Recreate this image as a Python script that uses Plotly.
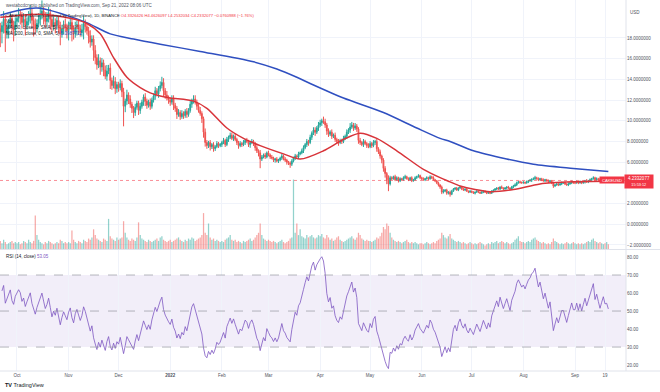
import numpy as np
import pandas as pd
import plotly.graph_objects as go

# ---------------- DATA ----------------
start_date = "2021-09-21"
first_open = 18.9

close = [
    # Sep 21-30 2021
    18.6, 19.2, 19.8, 18.5, 18.9, 19.4, 19.9, 19.1, 18.8, 19.6,
    # Oct
    19.9, 20.3, 20.1, 19.5, 19.8, 19.2, 19.6, 20.0, 20.4, 19.7,
    19.3, 18.9, 19.4, 19.8, 20.2, 20.6, 20.1, 19.6, 19.9, 20.4,
    19.8, 19.1, 19.5, 19.2, 19.7, 19.0, 18.4, 18.9, 19.3, 19.0, 18.7,
    # Nov
    19.2, 19.5, 18.8, 18.4, 19.0, 19.3, 18.9, 18.5, 18.8, 19.4,
    19.1, 18.7, 18.2, 17.6, 17.9, 16.8, 16.1, 15.4, 15.8, 15.2,
    15.6, 14.9, 14.3, 14.8, 15.1, 13.9, 13.4, 13.8, 13.1, 13.5,
    # Dec
    13.2, 13.6, 12.8, 11.4, 11.9, 12.5, 12.1, 11.6, 11.2, 10.8,
    11.3, 11.7, 11.0, 11.4, 11.8, 12.3, 11.9, 11.5, 11.8, 11.4,
    12.0, 12.4, 12.9, 12.6, 13.1, 13.4, 13.7, 12.9, 12.5, 12.2, 12.0,
    # Jan 2022
    11.8, 12.1, 11.5, 11.2, 10.6, 10.8, 10.4, 10.7, 10.5, 10.9,
    10.6, 11.0, 11.6, 11.9, 12.1, 11.8, 11.4, 11.0, 10.7, 10.2,
    8.9, 7.9, 7.6, 7.9, 7.5, 7.7, 7.3, 7.5, 7.8, 7.6, 7.7,
    # Feb
    7.9, 8.1, 7.7, 8.2, 8.4, 8.6, 8.3, 8.5, 8.2, 7.9,
    7.6, 7.8, 7.7, 7.9, 8.1, 8.0, 7.7, 7.9, 8.0, 7.8,
    7.4, 7.1, 6.9, 6.3, 6.5, 6.7, 6.5, 6.9,
    # Mar
    6.7, 6.5, 6.4, 6.2, 6.3, 6.1, 6.2, 6.4, 6.6, 6.3,
    6.2, 6.0, 5.9, 5.8, 6.1, 6.4, 6.6, 6.5, 6.8, 6.9,
    7.1, 7.4, 7.7, 8.0, 7.9, 8.4, 8.8, 9.1, 8.9, 9.3, 9.6,
    # Apr
    9.8, 10.0, 9.9, 9.6, 9.0, 8.7, 8.9, 8.5, 8.6, 8.2,
    8.0, 7.9, 8.1, 8.0, 8.3, 8.5, 8.9, 9.1, 9.4, 9.6,
    9.3, 9.5, 9.2, 8.1, 7.9, 7.7, 8.0, 7.8, 7.6, 7.5,
    # May
    7.8, 7.6, 7.9, 8.0, 7.3, 7.0, 6.6, 6.2, 5.4, 4.9,
    4.3, 3.9, 4.5, 4.4, 4.6, 4.3, 4.5, 4.2, 4.4, 4.3,
    4.5, 4.6, 4.4, 4.3, 4.5, 4.2, 4.3, 4.5, 4.6, 4.7, 4.5,
    # Jun
    4.4, 4.3, 4.4, 4.5, 4.4, 4.6, 4.5, 4.3, 4.2, 4.0,
    3.8, 3.6, 3.1, 3.2, 3.3, 3.0, 3.1, 2.9, 3.2, 3.4,
    3.5, 3.3, 3.5, 3.6, 3.4, 3.3, 3.4, 3.2, 3.1, 3.2,
    # Jul
    3.1, 3.0, 3.1, 3.2, 3.1, 3.0, 3.1, 3.2, 3.1, 3.0,
    3.1, 3.0, 3.2, 3.3, 3.4, 3.5, 3.4, 3.6, 3.5, 3.4,
    3.5, 3.6, 3.5, 3.4, 3.6, 3.7, 3.8, 4.0, 4.1, 4.05, 4.0,
    # Aug
    4.05, 4.0, 4.1, 4.2, 4.25, 4.35, 4.4, 4.5, 4.4, 4.3,
    4.4, 4.3, 4.2, 4.3, 4.2, 4.1, 4.2, 4.0, 3.7, 3.8,
    3.9, 3.8, 3.9, 4.0, 4.0, 3.9, 3.8, 3.9, 4.0, 4.1, 4.0,
    # Sep 1-21
    4.0, 4.1, 4.0, 4.1, 4.0, 4.1, 4.2, 4.1, 4.2, 4.3,
    4.4, 4.5, 4.3, 4.4, 4.3, 4.2, 4.3, 4.4, 4.3, 4.31, 4.2332077,
]

# upper / lower shadow length, in % of the candle body edge
up_wick_pct = [
    3, 2, 4, 2, 3, 2, 3, 2, 3, 2,
    2, 3, 2, 2, 3, 2, 2, 3, 4, 2, 2, 3, 2, 3, 4, 5, 2, 2, 3, 3, 2, 2, 3, 2, 2, 2, 3, 2, 2, 3, 2,
    2, 3, 2, 2, 3, 2, 2, 2, 3, 4, 2, 2, 2, 3, 2, 2, 3, 2, 4, 2, 3, 2, 3, 4, 2, 3, 2, 4, 3, 2,
    2, 3, 2, 3, 2, 4, 2, 3, 2, 2, 3, 2, 2, 3, 2, 2, 3, 2, 2, 3, 2, 2, 3, 2, 2, 3, 4, 3, 2, 3, 2,
    2, 3, 3, 2, 2, 3, 2, 3, 2, 2, 3, 2, 3, 2, 3, 3, 2, 2, 3, 2, 2, 4, 3, 2, 3, 2, 3, 2, 3, 2, 2,
    2, 3, 2, 3, 2, 3, 3, 2, 3, 2, 2, 3, 2, 3, 2, 3, 2, 2, 3, 2, 2, 3, 2, 4, 3, 2, 3, 2,
    3, 2, 3, 2, 2, 3, 2, 2, 3, 2, 3, 2, 2, 3, 3, 2, 3, 2, 3, 2, 3, 3, 2, 3, 2, 3, 2, 3, 3, 2, 3,
    3, 2, 4, 3, 2, 3, 2, 3, 2, 3, 2, 3, 2, 2, 3, 2, 3, 2, 4, 3, 2, 3, 2, 2, 3, 2, 3, 2, 2, 3,
    3, 2, 3, 2, 3, 2, 3, 2, 3, 4, 3, 10, 4, 3, 2, 4, 3, 2, 3, 2, 3, 4, 2, 3, 2, 3, 2, 3, 2, 3, 2,
    2, 3, 2, 3, 2, 3, 2, 3, 2, 2, 3, 2, 4, 6, 3, 4, 3, 5, 4, 3, 2, 3, 2, 3, 2, 3, 2, 3, 2, 3,
    2, 3, 2, 3, 2, 2, 3, 2, 2, 3, 2, 2, 3, 2, 3, 2, 3, 2, 4, 2, 3, 2, 3, 2, 3, 3, 4, 3, 2, 3, 2,
    3, 2, 3, 2, 3, 2, 3, 4, 2, 3, 2, 2, 3, 2, 2, 3, 2, 2, 3, 2, 3, 2, 2, 3, 2, 3, 2, 4, 2, 3, 2,
    2, 3, 2, 3, 2, 3, 2, 4, 2, 3, 2, 3, 2, 3, 2, 4, 2, 3, 2, 3, 3,
]
down_wick_pct = [
    8, 6, 4, 10, 3, 5, 2, 4, 6, 3,
    3, 2, 4, 3, 2, 5, 2, 2, 3, 4, 6, 3, 2, 2, 3, 2, 4, 3, 2, 2, 5, 3, 2, 4, 2, 3, 6, 2, 3, 2, 4,
    5, 2, 6, 3, 2, 4, 3, 2, 2, 5, 3, 2, 4, 3, 2, 6, 4, 3, 2, 5, 3, 4, 2, 3, 2, 6, 3, 2, 4, 3,
    3, 2, 4, 17, 5, 3, 4, 3, 4, 5, 3, 2, 4, 3, 2, 3, 4, 3, 2, 3, 2, 2, 3, 2, 3, 2, 2, 4, 3, 2, 3,
    3, 2, 4, 3, 4, 2, 3, 2, 3, 2, 3, 2, 2, 3, 2, 2, 3, 2, 2, 4, 6, 5, 4, 3, 5, 3, 4, 3, 2, 3, 2,
    3, 2, 3, 2, 3, 2, 2, 3, 2, 3, 4, 2, 3, 2, 3, 2, 3, 4, 2, 3, 4, 3, 5, 14, 3, 2, 3, 2,
    2, 3, 2, 3, 4, 2, 3, 2, 3, 2, 3, 4, 3, 6, 3, 2, 3, 2, 3, 2, 2, 3, 2, 3, 4, 2, 3, 2, 4, 2, 3,
    2, 3, 2, 3, 4, 3, 2, 3, 2, 3, 3, 4, 2, 3, 2, 2, 3, 2, 3, 2, 3, 2, 3, 4, 3, 2, 3, 2, 3, 2,
    2, 3, 2, 3, 4, 3, 4, 5, 6, 8, 10, 18, 4, 3, 2, 3, 2, 4, 3, 2, 2, 3, 2, 3, 2, 3, 2, 2, 3, 2, 3,
    3, 2, 3, 2, 3, 2, 3, 2, 3, 3, 4, 5, 6, 4, 3, 5, 4, 8, 3, 2, 3, 2, 3, 2, 3, 2, 3, 2, 3, 2,
    3, 2, 4, 2, 3, 2, 2, 3, 2, 3, 2, 3, 2, 4, 2, 3, 2, 3, 2, 3, 2, 4, 2, 3, 2, 3, 2, 3, 2, 3, 2,
    2, 3, 2, 3, 2, 4, 2, 3, 2, 3, 2, 3, 2, 3, 2, 3, 2, 3, 5, 3, 2, 3, 2, 3, 2, 3, 2, 3, 2, 3, 2,
    3, 2, 3, 2, 3, 2, 4, 2, 3, 2, 3, 2, 3, 2, 3, 2, 3, 2, 3, 2, 1,
]

volume = [
    7, 5, 8, 6, 4, 5, 6, 7, 5, 6,
    5, 6, 4, 5, 7, 6, 5, 8, 6, 5, 7, 29, 12, 8, 6, 5, 4, 6, 5, 7, 6, 5, 4, 5, 6, 5, 8, 7, 5, 6, 5,
    6, 5, 16, 8, 6, 5, 7, 6, 5, 8, 7, 6, 9, 8, 10, 17, 12, 9, 8, 7, 6, 9, 8, 7, 26, 11, 9, 8, 7, 10,
    8, 9, 10, 24, 14, 10, 8, 7, 9, 8, 7, 10, 23, 12, 9, 8, 7, 6, 8, 7, 6, 7, 8, 9, 7, 10, 11, 8, 7, 6, 7,
    8, 6, 7, 8, 9, 10, 8, 7, 6, 8, 7, 9, 8, 10, 9, 7, 8, 9, 10, 12, 31, 14, 12, 22, 10, 8, 9, 7, 8, 7, 6,
    7, 6, 8, 9, 10, 12, 8, 7, 8, 6, 7, 6, 5, 7, 6, 7, 8, 9, 7, 8, 10, 12, 14, 22, 12, 9, 8, 7,
    8, 7, 6, 7, 6, 5, 6, 7, 8, 6, 5, 6, 7, 9, 10, 60, 14, 22, 12, 17, 11, 10, 9, 12, 10, 11, 12, 10, 9, 10, 12,
    11, 13, 10, 9, 12, 10, 8, 9, 7, 8, 10, 11, 8, 7, 6, 7, 8, 9, 10, 11, 9, 8, 10, 14, 12, 9, 8, 7, 8, 7,
    7, 6, 7, 8, 10, 9, 11, 14, 19, 17, 22, 20, 14, 10, 8, 7, 6, 7, 6, 5, 6, 7, 8, 6, 5, 6, 5, 6, 5, 4, 5,
    5, 4, 5, 6, 5, 4, 5, 6, 5, 7, 8, 9, 14, 12, 10, 9, 11, 13, 9, 8, 7, 6, 7, 6, 5, 6, 5, 4, 5, 6,
    5, 4, 5, 4, 5, 6, 5, 4, 3, 4, 5, 4, 6, 5, 6, 7, 5, 6, 7, 6, 5, 6, 5, 4, 5, 6, 8, 9, 11, 7, 6,
    6, 5, 6, 7, 6, 8, 9, 10, 8, 7, 6, 5, 6, 5, 4, 5, 4, 6, 9, 7, 6, 5, 4, 5, 4, 5, 6, 5, 4, 5, 6,
    5, 4, 5, 4, 5, 4, 5, 6, 7, 6, 8, 9, 7, 6, 5, 6, 5, 4, 5, 6, 4,
]

ma50_dates = ["2021-09-21", "2021-10-15", "2021-11-02", "2021-11-12", "2021-11-20",
              "2021-11-28", "2021-12-06", "2021-12-14", "2021-12-20", "2021-12-26",
              "2022-01-01", "2022-01-15", "2022-01-23", "2022-02-04", "2022-02-14",
              "2022-02-24", "2022-03-10", "2022-03-20", "2022-04-03", "2022-04-15",
              "2022-04-25", "2022-05-05", "2022-05-17", "2022-06-02", "2022-06-12",
              "2022-06-18", "2022-06-24", "2022-07-03", "2022-07-12", "2022-07-26",
              "2022-08-11", "2022-08-31", "2022-09-21"]
ma50_values = [20.0, 20.3, 19.9, 19.4, 18.4, 16.1, 14.2, 13.2, 12.7, 12.4,
               12.2, 11.9, 11.2, 9.3, 8.3, 7.6, 6.8, 6.3, 7.1, 8.2,
               8.8, 8.3, 7.1, 5.3, 4.5, 4.1, 3.7, 3.35, 3.15, 3.35,
               3.9, 4.1, 4.15]

ma200_dates = ["2021-09-21", "2021-10-13", "2021-11-10", "2021-11-26", "2021-12-10",
               "2021-12-26", "2022-01-19", "2022-02-20", "2022-03-06", "2022-03-18",
               "2022-03-26", "2022-04-15", "2022-05-09", "2022-05-29", "2022-06-12",
               "2022-06-18", "2022-07-02", "2022-07-22", "2022-08-07", "2022-08-31",
               "2022-09-21"]
ma200_values = [20.2, 20.9, 19.6, 18.4, 17.9, 17.4, 16.7, 15.7, 15.0, 14.2,
                13.6, 12.2, 10.8, 9.3, 8.3, 8.0, 7.1, 6.3, 5.8, 5.4, 5.1]

price_ticks = [-2, 0, 2, 6, 8, 10, 12, 14, 16, 18]
rsi_ticks = [20, 30, 40, 50, 60, 70, 80]
time_ticks = ["2021-10-01", "2021-11-01", "2021-12-01", "2022-01-01", "2022-02-01",
              "2022-03-01", "2022-04-01", "2022-05-01", "2022-06-01", "2022-07-01",
              "2022-08-01", "2022-09-01", "2022-09-19"]
time_labels = ["Oct", "Nov", "Dec", "<b>2022</b>", "Feb", "Mar", "Apr", "May", "Jun",
               "Jul", "Aug", "Sep", "19"]
last_price = 4.2332077

# ---------------- derived series ----------------
n = len(close)
dates = pd.date_range(start_date, periods=n, freq="D")
opens = [first_open] + close[:-1]
highs = [max(o, c) * (1 + u / 100) for o, c, u in zip(opens, close, up_wick_pct)]
lows = [min(o, c) * (1 - d / 100) for o, c, d in zip(opens, close, down_wick_pct)]
vol_colors = ["rgba(38,166,154,0.5)" if c >= o else "rgba(239,83,80,0.5)"
              for o, c in zip(opens, close)]

c_arr = np.array(close, dtype=float)
diff = np.diff(c_arr)
gain = np.clip(diff, 0, None)
loss = np.clip(-diff, 0, None)
ag, al = gain[:14].mean(), loss[:14].mean()
rsi = [None]
for g, l in zip(gain, loss):
    ag = (ag * 13 + g) / 14
    al = (al * 13 + l) / 14
    rsi.append(100 - 100 / (1 + ag / al) if al > 0 else 100.0)

# ---------------- layout geometry ----------------
W, H = 660, 392
ML, MR, MT, MB = 0, 34, 0, 21
PW, PH = W - ML - MR, H - MT - MB


def fx(px):
    return (px - ML) / PW


def fy(py):
    return (H - MB - py) / PH


x0 = pd.Timestamp(start_date) - pd.Timedelta(hours=4.3)
x1 = pd.Timestamp(start_date) + pd.Timedelta(days=375.6)

FONT = "Liberation Sans, Arial, sans-serif"
TXT = "#50535e"
GRID = "#f0f3fa"

fig = go.Figure()
fig.add_trace(go.Bar(x=dates, y=volume, marker=dict(color=vol_colors, line_width=0),
                     yaxis="y3", xaxis="x", showlegend=False))
fig.add_trace(go.Candlestick(
    x=dates, open=opens, high=highs, low=lows, close=close,
    increasing=dict(line=dict(color="#26a69a", width=1), fillcolor="#26a69a"),
    decreasing=dict(line=dict(color="#ef5350", width=1), fillcolor="#ef5350"),
    whiskerwidth=0, showlegend=False, xaxis="x", yaxis="y"))
fig.add_trace(go.Scatter(x=pd.to_datetime(ma200_dates), y=ma200_values, mode="lines",
                         line=dict(color="#2f4fc0", width=1.5, shape="spline", smoothing=0.8),
                         showlegend=False, xaxis="x", yaxis="y"))
fig.add_trace(go.Scatter(x=pd.to_datetime(ma50_dates), y=ma50_values, mode="lines",
                         line=dict(color="#d8343a", width=1.5, shape="spline", smoothing=0.8),
                         showlegend=False, xaxis="x", yaxis="y"))
fig.add_trace(go.Scatter(x=dates, y=rsi, mode="lines",
                         line=dict(color="#7e57c2", width=0.8),
                         showlegend=False, xaxis="x2", yaxis="y2"))

price_dom = [fy(249), 1]
rsi_dom = [0, fy(250)]

fig.update_layout(
    width=W, height=H, margin=dict(l=ML, r=MR, t=MT, b=MB),
    paper_bgcolor="white", plot_bgcolor="white",
    font=dict(family=FONT, size=4.5, color=TXT),
    showlegend=False, bargap=0.25,
    xaxis=dict(domain=[0, 1], anchor="y", type="date", range=[x0, x1],
               rangeslider=dict(visible=False), showticklabels=False,
               tickvals=time_ticks, showgrid=True, gridcolor=GRID, gridwidth=1,
               zeroline=False, showline=False, ticks=""),
    xaxis2=dict(domain=[0, 1], anchor="y2", type="date", range=[x0, x1], matches="x",
                tickvals=time_ticks, ticktext=time_labels, showgrid=True, gridcolor=GRID,
                tickfont=dict(size=4.5, color=TXT), ticks="", zeroline=False,
                showline=False),
    yaxis=dict(domain=price_dom, range=[-2.39, 21.67], side="right", anchor="x",
               tickvals=price_ticks,
               ticktext=[("\u2212" if v < 0 else "") + f"{abs(v):.7f}" for v in price_ticks],
               tickfont=dict(size=4.5, color=TXT), showgrid=True, gridcolor=GRID,
               zeroline=False, ticks="", showline=False),
    yaxis3=dict(overlaying="y", range=[0, 215], visible=False, side="right"),
    yaxis2=dict(domain=rsi_dom, range=[16.7, 83.9], side="right", anchor="x2",
                tickvals=rsi_ticks, ticktext=[f"{v:.2f}" for v in rsi_ticks],
                tickfont=dict(size=4.5, color=TXT), showgrid=False,
                zeroline=False, ticks="", showline=False),
)

shapes = [
    dict(type="rect", xref="paper", yref="y2", x0=0, x1=1, y0=30, y1=70,
         fillcolor="rgba(126,87,194,0.1)", line_width=0, layer="below"),
]
for lv in (70, 50, 30):
    shapes.append(dict(type="line", xref="paper", yref="y2", x0=0, x1=1, y0=lv, y1=lv,
                       line=dict(color="#9598a1", width=0.7, dash="dash")))
shapes += [
    dict(type="line", xref="paper", yref="y", x0=0, x1=1, y0=last_price, y1=last_price,
         line=dict(color="rgba(242,54,69,0.7)", width=0.8, dash="dot")),
    dict(type="line", xref="paper", yref="paper", x0=0, x1=fx(W), y0=fy(249.5), y1=fy(249.5),
         line=dict(color="#e0e3eb", width=1)),
    dict(type="line", xref="paper", yref="paper", x0=1, x1=1, y0=0, y1=1,
         line=dict(color="#e0e3eb", width=1)),
    dict(type="line", xref="paper", yref="paper", x0=0, x1=fx(W), y0=0, y1=0,
         line=dict(color="#e0e3eb", width=1)),
]
fig.update_layout(shapes=shapes)

RED = "#f23645"
ann = []


def txt(px, py, text, size=4.5, color=TXT, **kw):
    ann.append(dict(xref="paper", yref="paper", x=fx(px), y=fy(py), text=text,
                    showarrow=False, xanchor="left", yanchor="middle",
                    font=dict(size=size, color=color, family=FONT), **kw))


txt(4, 6, "westabcdcrypto published on TradingView.com, Sep 21, 2022 08:06 UTC")
txt(4, 15.5, "<span style='color:#131722'>CAKE / U.S. Dollar (calculated by TradingView), "
    "1D, BINANCE</span> <span style='color:#f23645'>O4.3326426 H4.4626097 L4.2532034 "
    "C4.2332077 \u22120.0760988 (\u22121.76%)</span>", size=4.1)
txt(4, 21.5, "<span style='color:#131722'>Vol</span>")
txt(4, 27.5, "<span style='color:#131722'>MA (50, close, 0, SMA, 5)</span> "
    "<span style='color:#d8343a'>4.1481635</span>")
txt(4, 33.5, "<span style='color:#131722'>MA (200, close, 0, SMA, 5)</span> "
    "<span style='color:#2f4fc0'>5.0987712</span>")
txt(4, 256, "<span style='color:#131722'>RSI (14, close)</span> "
    "<span style='color:#7e57c2'>53.05</span>")
txt(628, 13, "USD", color=TXT)
txt(3, 385, "<b>TV</b> TradingView", size=5.5, color="#131722")

ann.append(dict(xref="paper", yref="paper", x=fx(611.5), y=fy(180), text="CAKEUSD",
                showarrow=False, xanchor="center", yanchor="middle", bgcolor=RED,
                width=24, height=6, borderpad=0,
                font=dict(size=4.2, color="white", family=FONT)))
ann.append(dict(xref="paper", yref="paper", x=fx(639), y=fy(181.5),
                text="4.2332077<br><span style='font-size:3.8px'>15:53:12</span>",
                showarrow=False, xanchor="center", yanchor="middle", bgcolor=RED,
                width=28, height=13, borderpad=0,
                font=dict(size=4.5, color="white", family=FONT)))
fig.update_layout(annotations=ann)

fig.write_html("out.html", config={"displayModeBar": False},
               post_script="document.body.style.margin='0';"
               "document.body.style.overflow='hidden';")
